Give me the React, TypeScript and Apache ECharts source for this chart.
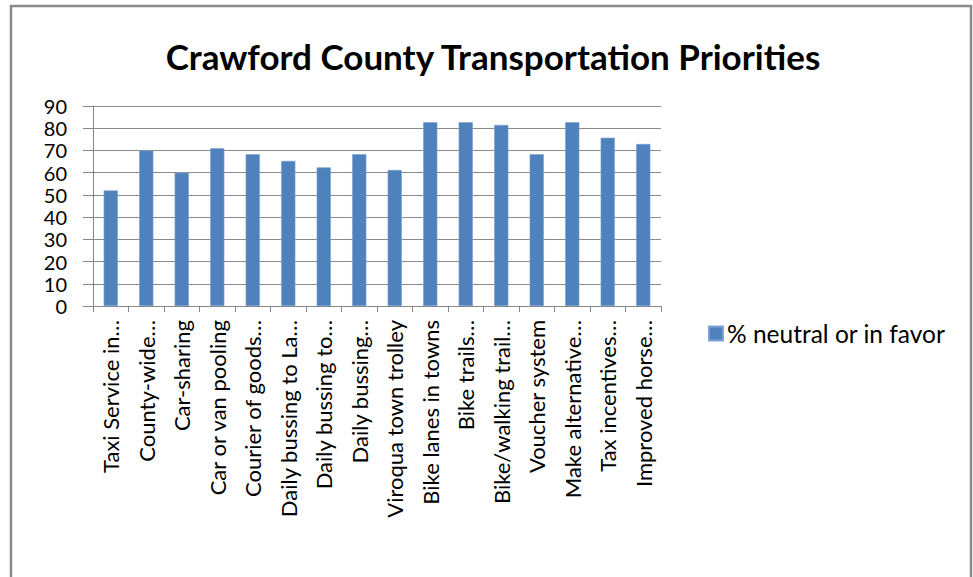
import React, { useEffect, useRef } from "react";
import * as echarts from "echarts";

const categories: string[] = [
  "Taxi Service in…",
  "County-wide…",
  "Car-sharing",
  "Car or van pooling",
  "Courier of goods…",
  "Daily bussing to La…",
  "Daily bussing to…",
  "Daily bussing…",
  "Viroqua town trolley",
  "Bike lanes in towns",
  "Bike trails…",
  "Bike/walking trail…",
  "Voucher system",
  "Make alternative…",
  "Tax incentives…",
  "Improved horse…",
];

const neutralOrInFavor: number[] = [
  52, 70, 60, 71, 68.3, 65.3, 62.4, 68.3, 61.2, 82.7, 82.7, 81.5, 68.3, 82.7, 75.7, 72.9,
];

const seriesName = "% neutral or in favor";
const titleText = "Crawford County Transportation Priorities";
const yMin = 0;
const yMax = 90;
const yStep = 10;

const FONT = "Lato, 'Open Sans', sans-serif";

export default function App() {
  const ref = useRef<HTMLDivElement>(null);
  useEffect(() => {
    if (!ref.current) return;
    const chart = echarts.init(ref.current, undefined, { renderer: "svg" });
    chart.setOption({
      animation: false,
      backgroundColor: "#ffffff",
      title: {
        text: titleText,
        left: 488,
        textAlign: "center",
        top: 33,
        textStyle: { fontFamily: FONT, fontWeight: "bold", fontSize: 35, color: "#000" },
      },
      graphic: [
        {
          type: "rect",
          shape: { x: 11, y: 6, width: 960, height: 600 },
          style: { fill: "none", stroke: "#8a8a8a", lineWidth: 2.5 },
          silent: true,
        },
      ],
      legend: {
        data: [seriesName],
        left: 703,
        top: 316,
        icon: "rect",
        itemWidth: 14,
        itemHeight: 14,
        itemGap: 6,
        textStyle: { fontFamily: FONT, fontSize: 24.5, color: "#000", padding: [0, 0, 0, -1] },
      },
      grid: { left: 93, right: 312, top: 106, bottom: 271, containLabel: false },
      xAxis: {
        type: "category",
        data: categories,
        boundaryGap: true,
        axisLine: { show: true, lineStyle: { color: "#868686", width: 1 } },
        axisTick: { show: true, length: 6, alignWithLabel: false, lineStyle: { color: "#868686" } },
        axisLabel: {
          interval: 0,
          rotate: 90,
          margin: 14,
          fontFamily: FONT,
          fontSize: 22,
          color: "#000",
        },
      },
      yAxis: {
        type: "value",
        min: yMin,
        max: yMax,
        interval: yStep,
        axisLine: { show: true, lineStyle: { color: "#868686", width: 1 } },
        axisTick: { show: true, length: 10, lineStyle: { color: "#868686" } },
        splitLine: { show: true, lineStyle: { color: "#8a8a8a", width: 1 } },
        axisLabel: {
          fontFamily: FONT,
          fontSize: 20,
          lineHeight: 18,
          color: "#000",
          margin: 26,
          showMinLabel: true,
          showMaxLabel: true,
          hideOverlap: false,
        },
      },
      series: [
        {
          name: seriesName,
          type: "bar",
          data: neutralOrInFavor,
          barWidth: "40%",
          itemStyle: { color: "#4F81BD", borderColor: "#7ea3d2", borderWidth: 0.6 },
        },
      ],
    });
    return () => chart.dispose();
  }, []);
  return (
    <div
      ref={ref}
      style={{ position: "fixed", left: 0, top: 0, width: 973, height: 577, background: "#fff" }}
    />
  );
}
